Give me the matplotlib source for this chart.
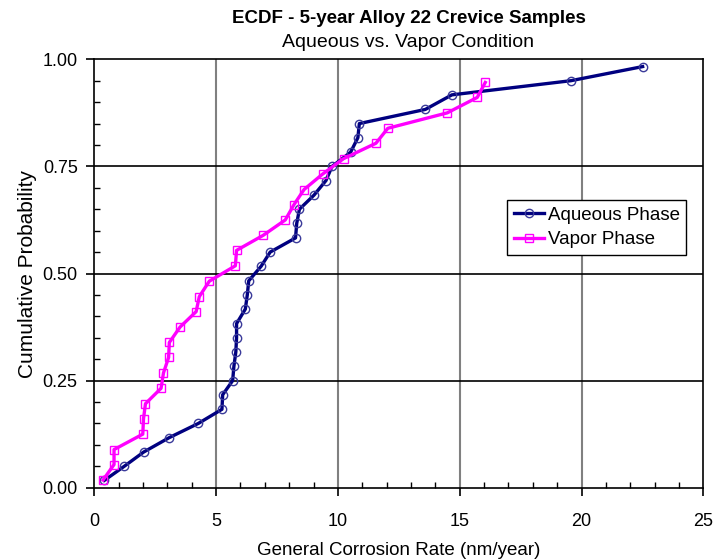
import matplotlib
matplotlib.use("Agg")
import matplotlib.pyplot as plt
from matplotlib.ticker import MultipleLocator

plt.rcParams['font.family'] = ['Liberation Sans', 'DejaVu Sans']

aqueous_rate = [0.41, 1.23, 2.02, 3.08, 4.27, 5.24, 5.27, 5.68, 5.73, 5.81, 5.84, 5.84,
                6.20, 6.28, 6.34, 6.85, 7.22, 8.26, 8.31, 8.42, 9.02, 9.51, 9.76, 10.52,
                10.82, 10.88, 13.59, 14.68, 19.56, 22.51]
aqueous_prob = [0.017, 0.050, 0.083, 0.117, 0.150, 0.183, 0.217, 0.250, 0.283, 0.317,
                0.350, 0.383, 0.417, 0.450, 0.483, 0.517, 0.550, 0.583, 0.617, 0.650,
                0.683, 0.717, 0.750, 0.783, 0.817, 0.850, 0.883, 0.917, 0.950, 0.983]

vapor_rate = [0.36, 0.81, 0.81, 1.99, 2.02, 2.10, 2.74, 2.84, 3.05, 3.08, 3.52, 4.18,
              4.31, 4.72, 5.79, 5.84, 6.93, 7.84, 8.20, 8.61, 9.37, 10.23, 11.56, 12.05,
              14.49, 15.72, 16.05]
vapor_prob = [0.018, 0.054, 0.089, 0.125, 0.161, 0.196, 0.232, 0.268, 0.304, 0.339,
              0.375, 0.411, 0.446, 0.482, 0.518, 0.554, 0.589, 0.625, 0.661, 0.696,
              0.732, 0.768, 0.804, 0.839, 0.875, 0.911, 0.946]

x_ticks = [0, 5, 10, 15, 20, 25]
y_ticks = [0.00, 0.25, 0.50, 0.75, 1.00]
y_tick_labels = ['0.00', '0.25', '0.50', '0.75', '1.00']

fig = plt.figure(figsize=(7.15, 5.6), dpi=100)
ax = fig.add_axes([94.3/715, 72.3/560, 609/715, 428.4/560])

for xv in x_ticks[1:-1]:
    ax.axvline(xv, color='#808080', lw=1.5, zorder=1)
for yv in y_ticks[1:-1]:
    ax.axhline(yv, color='black', lw=1.2, zorder=1)

ax.plot(aqueous_rate, aqueous_prob, color='#000080', lw=2.4, marker='o', ms=6,
        mfc='none', mec='#3a3a9a', mew=1.0, label='Aqueous Phase', zorder=3)
ax.plot(vapor_rate, vapor_prob, color='#FF00FF', lw=2.4, marker='s', ms=6,
        mfc='none', mec='#FF00FF', mew=1.0, label='Vapor Phase', zorder=3)

ax.set_xlim(0, 25)
ax.set_ylim(0, 1)
ax.set_xticks(x_ticks)
ax.set_yticks(y_ticks)
ax.set_yticklabels(y_tick_labels)
ax.xaxis.set_minor_locator(MultipleLocator(1))
ax.yaxis.set_minor_locator(MultipleLocator(0.05))
ax.tick_params(which='major', direction='out', length=6, width=1.2, labelsize=13, color='black')
ax.tick_params(axis='x', which='major', pad=12)
ax.tick_params(axis='y', which='major', pad=6)
ax.tick_params(which='minor', direction='in', length=4, width=1.0)
for s in ax.spines.values():
    s.set_linewidth(1.2)
    s.set_color('black')

ax.set_xlabel('General Corrosion Rate (nm/year)', fontsize=13.5, labelpad=9)
ax.set_ylabel('Cumulative Probability', fontsize=15, labelpad=4)

fig.text(0.572, 0.967, 'ECDF - 5-year Alloy 22 Crevice Samples', ha='center', va='center',
         fontsize=13.5, fontweight='bold')
fig.text(0.571, 0.924, 'Aqueous vs. Vapor Condition', ha='center', va='center', fontsize=14)

leg = ax.legend(loc='upper left', bbox_to_anchor=(413/609, (487.7-200)/428.4), fontsize=13.5,
                frameon=True, fancybox=False, edgecolor='black', framealpha=1,
                handlelength=1.6, handletextpad=0.2, borderpad=0.35, labelspacing=0.4,
                borderaxespad=0)
leg.get_frame().set_linewidth(1.0)

fig.savefig('out.png', dpi=100)
